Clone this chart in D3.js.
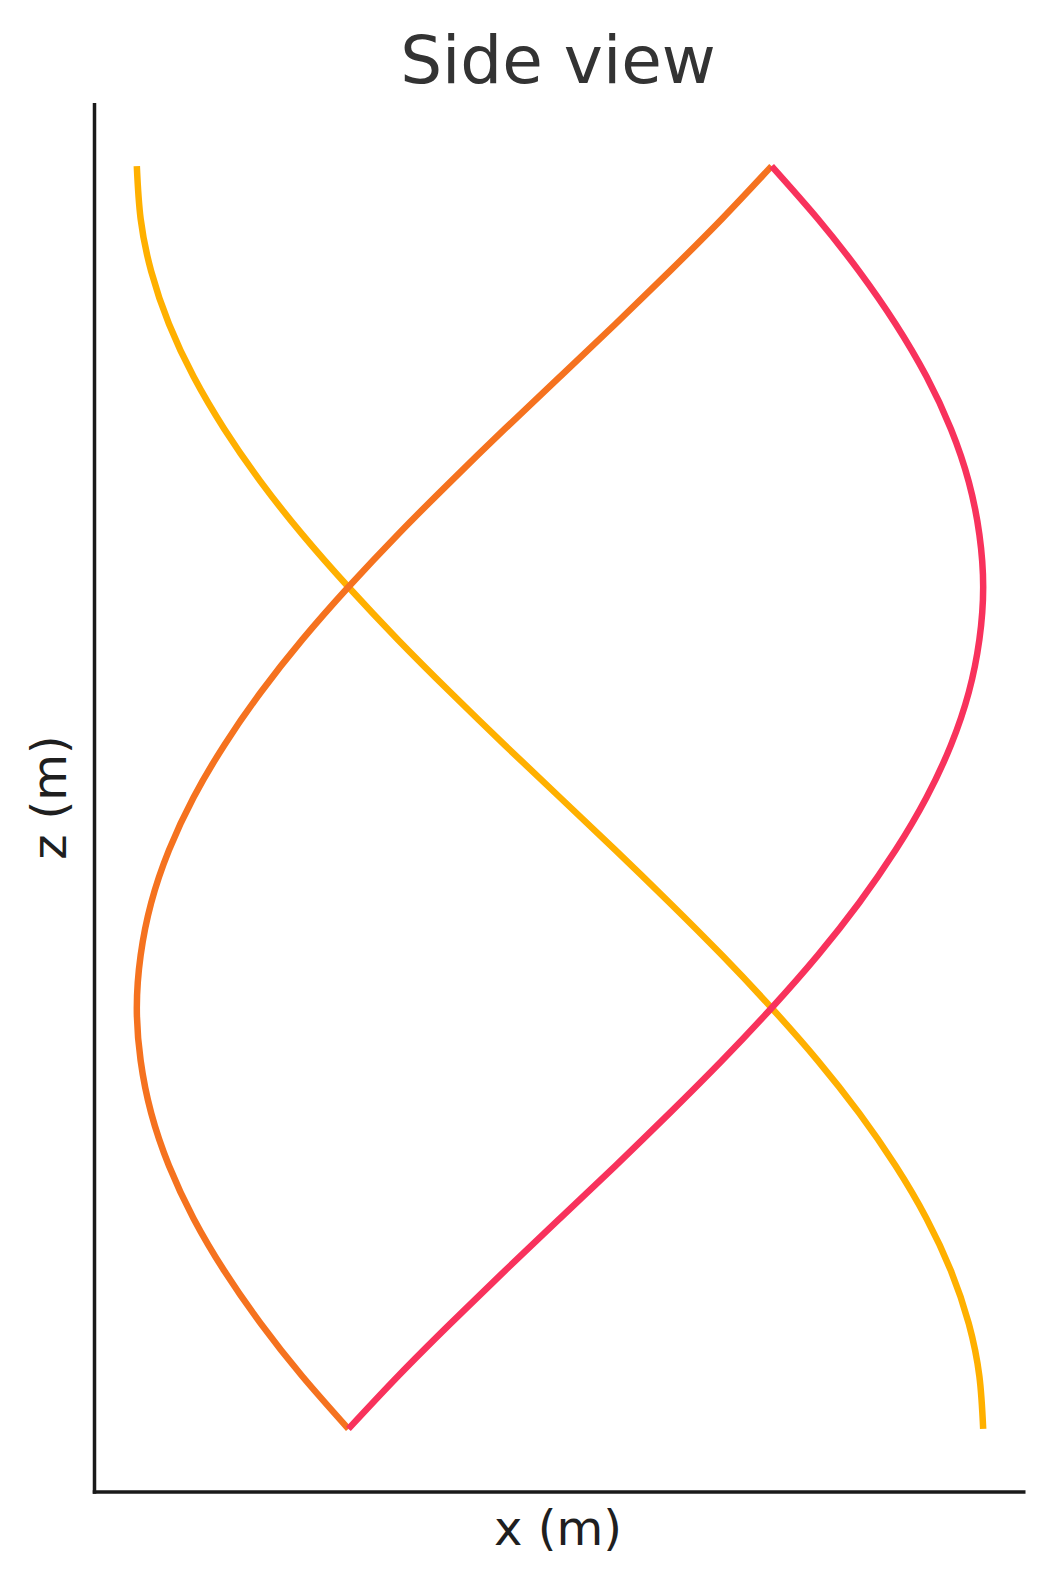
<!DOCTYPE html>
<html>
<head>
<meta charset="utf-8">
<script src="https://cdn.jsdelivr.net/npm/d3@7"></script>
<style>
  html, body { margin: 0; padding: 0; background: #ffffff; }
  svg { display: block; }
</style>
</head>
<body>
<div id="chart"></div>
<script>
// ---- data ----
const zValues = [3, 2.875, 2.75, 2.625, 2.5, 2.375, 2.25, 2.125, 2, 1.875, 1.75, 1.625, 1.5,
                 1.375, 1.25, 1.125, 1, 0.875, 0.75, 0.625, 0.5, 0.375, 0.25, 0.125, 0];
const bladeYellowX = [-1, -0.991, -0.966, -0.924, -0.866, -0.793, -0.707, -0.609, -0.5, -0.383, -0.259, -0.131, 0,
                      0.131, 0.259, 0.383, 0.5, 0.609, 0.707, 0.793, 0.866, 0.924, 0.966, 0.991, 1];
const bladeOrangeX = [0.5, 0.383, 0.259, 0.131, 0, -0.131, -0.259, -0.383, -0.5, -0.609, -0.707, -0.793, -0.866,
                      -0.924, -0.966, -0.991, -1, -0.991, -0.966, -0.924, -0.866, -0.793, -0.707, -0.609, -0.5];
const bladeRedX = [0.5, 0.609, 0.707, 0.793, 0.866, 0.924, 0.966, 0.991, 1, 0.991, 0.966, 0.924, 0.866,
                   0.793, 0.707, 0.609, 0.5, 0.383, 0.259, 0.131, 0, -0.131, -0.259, -0.383, -0.5];
const seriesNames = ["blade 1", "blade 2", "blade 3"];
const titleText = "Side view";
const xLabel = "x (m)";
const yLabel = "z (m)";

const colors = ["#FFB000", "#F5721F", "#F8325C"];
const seriesX = [bladeYellowX, bladeOrangeX, bladeRedX];

// ---- layout ----
const W = 1054, H = 1587;
const mLeft = 94.5, mRight = 1025.5, mTop = 103, mBottom = 1492;

const svg = d3.select("#chart").append("svg")
  .attr("width", W).attr("height", H);

const xExtent = [-1, 1], zExtent = [0, 3];
const xPad = (xExtent[1] - xExtent[0]) * 0.05;
const zPad = (zExtent[1] - zExtent[0]) * 0.05;

const x = d3.scaleLinear().domain([xExtent[0] - xPad, xExtent[1] + xPad]).range([mLeft, mRight]);
const y = d3.scaleLinear().domain([zExtent[0] - zPad, zExtent[1] + zPad]).range([mBottom, mTop]);

const line = d3.line()
  .x(d => x(d.x))
  .y(d => y(d.z))
  .curve(d3.curveNatural);

seriesX.forEach((xs, i) => {
  const pts = xs.map((v, j) => ({ x: v, z: zValues[j] }));
  svg.append("path")
    .datum(pts)
    .attr("class", "series " + seriesNames[i].replace(" ", "-"))
    .attr("d", line)
    .attr("fill", "none")
    .attr("stroke", colors[i])
    .attr("stroke-width", 6.5)
    .attr("stroke-linecap", "butt")
    .attr("stroke-linejoin", "round");
});

// axes (spines only, no ticks)
const xAxis = svg.append("g")
  .attr("transform", `translate(0,${mBottom})`)
  .call(d3.axisBottom(x).ticks(0).tickSizeOuter(0));
const yAxis = svg.append("g")
  .attr("transform", `translate(${mLeft},0)`)
  .call(d3.axisLeft(y).ticks(0).tickSizeOuter(0));
[xAxis, yAxis].forEach(g => {
  g.selectAll(".tick").remove();
  g.select(".domain").attr("stroke", "#1a1a1a").attr("stroke-width", 3.5);
});
xAxis.select(".domain").attr("d", `M${mLeft - 1.75},0H${mRight}`);
yAxis.select(".domain").attr("d", `M0,${mTop}V${mBottom + 1.75}`);

// title and labels
svg.append("text")
  .attr("x", (mLeft + mRight) / 2 - 2)
  .attr("y", 83)
  .attr("text-anchor", "middle")
  .attr("font-family", "DejaVu Sans, sans-serif")
  .attr("font-size", 66)
  .attr("fill", "#333333")
  .text(titleText);

svg.append("text")
  .attr("x", (mLeft + mRight) / 2 - 2)
  .attr("y", 1545)
  .attr("text-anchor", "middle")
  .attr("font-family", "DejaVu Sans, sans-serif")
  .attr("font-size", 48)
  .attr("fill", "#1f1f1f")
  .text(xLabel);

svg.append("text")
  .attr("transform", `translate(66,${(mTop + mBottom) / 2}) rotate(-90)`)
  .attr("text-anchor", "middle")
  .attr("font-family", "DejaVu Sans, sans-serif")
  .attr("font-size", 48)
  .attr("fill", "#1f1f1f")
  .text(yLabel);
</script>
</body>
</html>
